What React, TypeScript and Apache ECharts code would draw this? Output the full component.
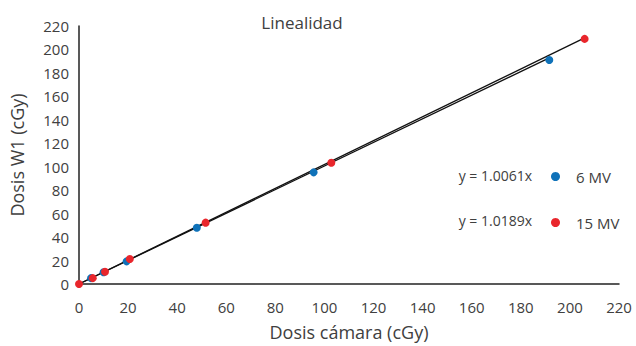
import React, { useEffect, useRef } from "react";
import * as echarts from "echarts";

const seriesNames = ["6 MV", "15 MV"];
const slopes = [1.0061, 1.0189];
const equations = ["y = 1.0061x", "y = 1.0189x"];
const colors = ["#0F72B9", "#E9262C"];
const mv6: [number, number][] = [
  [4.9, 5],
  [10, 10],
  [19.4, 19.3],
  [48, 47.9],
  [95.6, 95.2],
  [191.6, 191],
];
const mv15: [number, number][] = [
  [0, 0],
  [5.6, 5],
  [10.6, 10.5],
  [20.7, 21.3],
  [51.6, 52.3],
  [102.8, 103.4],
  [206, 209],
];
const axisTicks = { min: 0, max: 220, interval: 20 };

const FONT = "'Open Sans', 'Liberation Sans', sans-serif";
const TXT = "#404040";

export default function App() {
  const ref = useRef<HTMLDivElement>(null);
  useEffect(() => {
    if (!ref.current) return;
    const chart = echarts.init(ref.current, undefined, { renderer: "svg" });
    const all = [mv6, mv15];
    const trend = all.map((pts, i) => {
      const lastX = pts[pts.length - 1][0];
      return [
        [0, 0],
        [lastX, slopes[i] * lastX],
      ];
    });
    chart.setOption({
      animation: false,
      textStyle: { fontFamily: FONT },
      title: {
        text: "Linealidad",
        left: 297,
        top: 9,
        textAlign: "center",
        textStyle: { fontFamily: FONT, fontSize: 17, fontWeight: "normal", color: TXT },
      },
      grid: { left: 78, right: 17, top: 26, bottom: 58, containLabel: false },
      legend: {
        data: seriesNames,
        orient: "vertical",
        left: 546,
        top: 164,
        itemGap: 31,
        itemWidth: 9,
        itemHeight: 9,
        icon: "circle",
        textStyle: { fontFamily: FONT, fontSize: 15, color: TXT, padding: [0, 0, 0, 11] },
      },
      graphic: equations.map((t, i) => ({
        type: "text",
        right: 636 - 532,
        top: 168 + i * 45,
        style: { text: t, fill: TXT, font: `14px ${FONT}`, textAlign: "right" },
      })),
      xAxis: {
        type: "value",
        ...axisTicks,
        name: "Dosis cámara (cGy)",
        nameLocation: "middle",
        nameGap: 39,
        nameTextStyle: { fontFamily: FONT, fontSize: 18, color: TXT },
        axisLine: { show: true, lineStyle: { color: "#222", width: 1.5 } },
        axisTick: { show: false },
        splitLine: { show: false },
        axisLabel: { fontFamily: FONT, fontSize: 15, color: TXT, margin: 15 },
      },
      yAxis: {
        type: "value",
        ...axisTicks,
        name: "Dosis W1 (cGy)",
        nameLocation: "middle",
        nameGap: 53,
        nameTextStyle: { fontFamily: FONT, fontSize: 18, color: TXT },
        axisLine: { show: true, lineStyle: { color: "#222", width: 1.5 } },
        axisTick: { show: false },
        splitLine: { show: false },
        axisLabel: { fontFamily: FONT, fontSize: 15, color: TXT, margin: 10 },
      },
      series: [
        ...trend.map((d, i) => ({
          type: "line",
          name: "trend" + i,
          data: d,
          symbol: "none",
          lineStyle: { color: "#111", width: 1.3 },
          z: 1,
        })),
        ...all.map((d, i) => ({
          type: "scatter",
          name: seriesNames[i],
          data: d,
          symbolSize: 8,
          itemStyle: { color: colors[i], opacity: 1 },
          z: 3,
        })),
      ],
    });
    return () => chart.dispose();
  }, []);
  return (
    <div
      ref={ref}
      style={{ position: "absolute", left: 0, top: 0, width: 636, height: 346 }}
    />
  );
}
